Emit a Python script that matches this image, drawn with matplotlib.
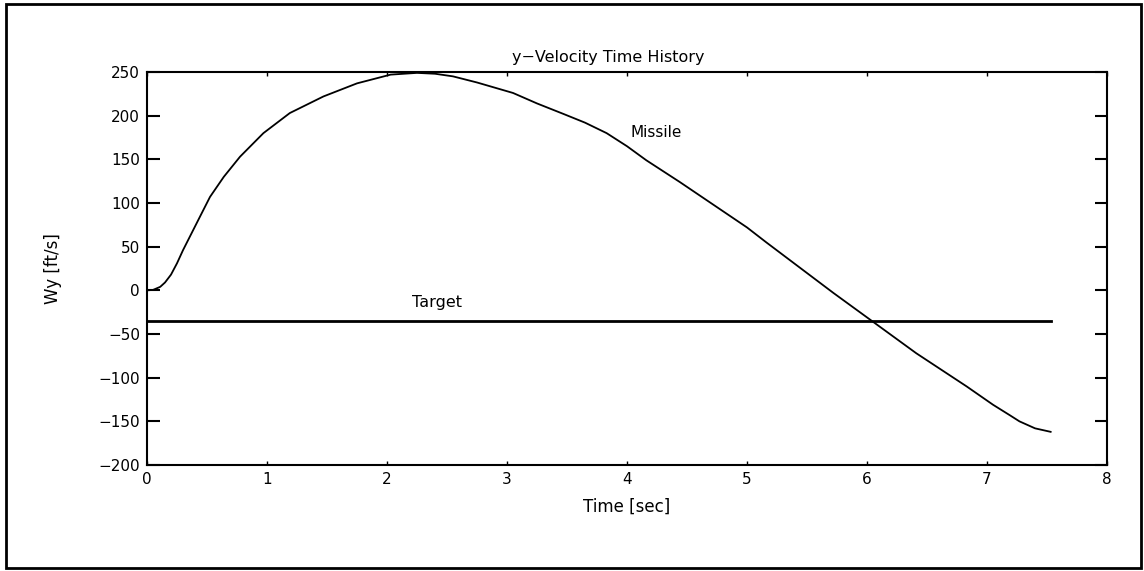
import numpy as np
import matplotlib
matplotlib.use('Agg')
from matplotlib import pyplot as plt
from matplotlib.patches import Rectangle

# values
t_missile = [0.0, 0.05, 0.11, 0.15, 0.20, 0.25, 0.30, 0.37, 0.44, 0.525,
             0.64, 0.775, 0.97, 1.19, 1.47, 1.75, 2.03, 2.25, 2.40, 2.55,
             2.75, 3.05, 3.25, 3.47, 3.65, 3.83, 4.00, 4.16, 4.44, 4.58,
             5.00, 5.16, 5.72, 6.05, 6.41, 6.83, 7.05, 7.19, 7.27, 7.40,
             7.53]
v_missile = [0, 0.5, 4, 9, 18, 31, 46, 65, 84, 107,
             130, 153, 180, 203, 222, 237, 247, 249, 248, 245,
             238, 226, 214, 202, 192, 180, 165, 149, 124, 111,
             72, 55, -3, -36, -72, -110, -131, -143, -150, -158,
             -162]

t_target = [0.0, 7.53]
v_target = [-35, -35]

y_ticks = [-200, -150, -100, -50, 0, 50, 100, 150, 200, 250]
x_ticks = [0, 1, 2, 3, 4, 5, 6, 7, 8]

plt.rcParams['font.family'] = 'DejaVu Sans'
plt.rcParams['axes.unicode_minus'] = True

fig = plt.figure(figsize=(11.44, 5.71), dpi=100)
ax = fig.add_axes([0.1285, 0.1856, 0.8392, 0.6883])

ax.plot(t_missile, v_missile, color='black', lw=1.3)
ax.plot(t_target, v_target, color='black', lw=2.0)

ax.set_xlim(0, 8)
ax.set_ylim(-200, 250)
ax.set_xticks(x_ticks)
ax.set_yticks(y_ticks)
ax.tick_params(axis='y', direction='in', length=9, width=1.5, right=True,
               labelsize=11, pad=5)
ax.tick_params(axis='x', direction='in', length=3, width=1, top=True,
               labelsize=11, pad=5)
for s in ax.spines.values():
    s.set_linewidth(1.5)

# title sits a little left of centre in the original
ax.text(0.48, 1.037, 'y\u2212Velocity Time History', transform=ax.transAxes,
        fontsize=11.5, ha='center', va='center')
ax.set_xlabel('Time [sec]', fontsize=12, labelpad=8)
ax.set_ylabel('Wy [ft/s]', fontsize=12, labelpad=26)

ax.text(4.24, 181, 'Missile', fontsize=11, ha='center', va='center')
ax.text(2.42, -14, 'Target', fontsize=11.5, ha='center', va='center')

# outer frame around the whole page
fig.patches.append(Rectangle((0.005, 0.005), 0.992, 0.988, transform=fig.transFigure,
                             fill=False, lw=2, edgecolor='black'))

fig.savefig('out.png', dpi=100)
